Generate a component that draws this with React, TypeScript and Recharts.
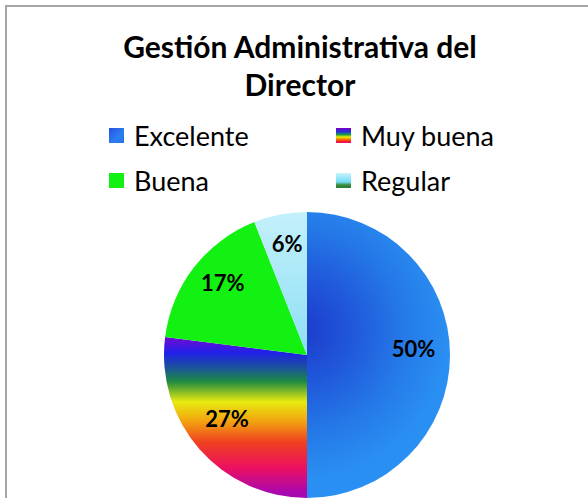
import { PieChart, Pie, Cell } from "recharts";

const categories = ["Excelente", "Muy buena", "Buena", "Regular"];
const values = [50, 27, 17, 6];
const title = ["Gestión Administrativa del", "Director"];

const fills = ["url(#gExcelente)", "url(#gMuyBuena)", "#12f112", "url(#gRegular)"];
const swatches = [
  "linear-gradient(135deg, #2a4fe0 0%, #2a7ff0 60%, #2b6fe8 100%)",
  "linear-gradient(180deg, #8000c0 0%, #2030e0 25%, #20a040 45%, #f0f000 60%, #f08000 75%, #f02020 90%, #e01080 100%)",
  "#12f112",
  "linear-gradient(180deg, #c8f4fc 0%, #70dcf4 60%, #3a8a3a 80%, #2a7a3a 100%)",
];

const data = categories.map((name, i) => ({ name, value: values[i] }));

const RAD = Math.PI / 180;
const FONT = "Lato, 'Open Sans', sans-serif";

function renderLabel(props: any) {
  const { cx, cy, midAngle, outerRadius, value } = props;
  const r = outerRadius * 0.745;
  const x = cx + r * Math.cos(-midAngle * RAD);
  const y = cy + r * Math.sin(-midAngle * RAD) - 7;
  return (
    <text
      x={x}
      y={y}
      textAnchor="middle"
      dominantBaseline="central"
      fontFamily={FONT}
      fontWeight={700}
      fontSize={22}
      fill="#000"
    >
      {`${value}%`}
    </text>
  );
}

export default function App() {
  return (
    <div style={{ position: "relative", width: 588, height: 498, background: "#fff", overflow: "hidden" }}>
      <style>{"body{margin:0}"}</style>
      <div
        style={{
          position: "absolute",
          left: 5,
          top: 5,
          width: 600,
          height: 600,
          borderLeft: "2px solid #a6a6a6",
          borderTop: "2px solid #a6a6a6",
        }}
      />
      <div
        style={{
          position: "absolute",
          top: 27,
          left: 0,
          width: 600,
          textAlign: "center",
          fontFamily: FONT,
          fontWeight: 700,
          fontSize: 30,
          lineHeight: "38px",
        }}
      >
        {title[0]}
        <br />
        {title[1]}
      </div>
      <div
        style={{
          position: "absolute",
          top: 119,
          left: 109,
          display: "grid",
          gridTemplateColumns: "227px 220px",
          rowGap: 13,
          fontFamily: FONT,
          fontSize: 27,
          color: "#000",
        }}
      >
        {categories.map((c, i) => (
          <div key={c} style={{ display: "flex", alignItems: "center", height: 32 }}>
            <span
              style={{
                display: "inline-block",
                width: 15,
                height: 15,
                background: swatches[i],
                marginRight: 10,
              }}
            />
            {c}
          </div>
        ))}
      </div>
      <PieChart width={588} height={498} style={{ position: "absolute", left: 0, top: 0 }}>
        <defs>
          <radialGradient id="gExcelente" gradientUnits="userSpaceOnUse" cx={300} cy={330} r={150}>
            <stop offset="0%" stopColor="#1c3acb" />
            <stop offset="35%" stopColor="#2058da" />
            <stop offset="70%" stopColor="#257ae8" />
            <stop offset="100%" stopColor="#2a8ff2" />
          </radialGradient>
          <linearGradient id="gMuyBuena" gradientUnits="userSpaceOnUse" x1={0} y1={324} x2={0} y2={493}>
            <stop offset="0%" stopColor="#8a00c8" />
            <stop offset="10%" stopColor="#6010d8" />
            <stop offset="17%" stopColor="#2020e8" />
            <stop offset="27%" stopColor="#1a5a90" />
            <stop offset="34%" stopColor="#1f8a40" />
            <stop offset="46%" stopColor="#e8ea10" />
            <stop offset="58%" stopColor="#f2a010" />
            <stop offset="70%" stopColor="#f04020" />
            <stop offset="85%" stopColor="#ec1060" />
            <stop offset="100%" stopColor="#a808b0" />
          </linearGradient>
          <linearGradient id="gRegular" x1="0" y1="0" x2="0" y2="1">
            <stop offset="0%" stopColor="#c4f0fb" />
            <stop offset="100%" stopColor="#8cdff4" />
          </linearGradient>
        </defs>
        <Pie
          data={data}
          dataKey="value"
          nameKey="name"
          cx={302}
          cy={350}
          outerRadius={143}
          startAngle={90}
          endAngle={-270}
          stroke="none"
          label={renderLabel}
          labelLine={false}
          isAnimationActive={false}
        >
          {data.map((d, i) => (
            <Cell key={d.name} fill={fills[i]} />
          ))}
        </Pie>
      </PieChart>
    </div>
  );
}
